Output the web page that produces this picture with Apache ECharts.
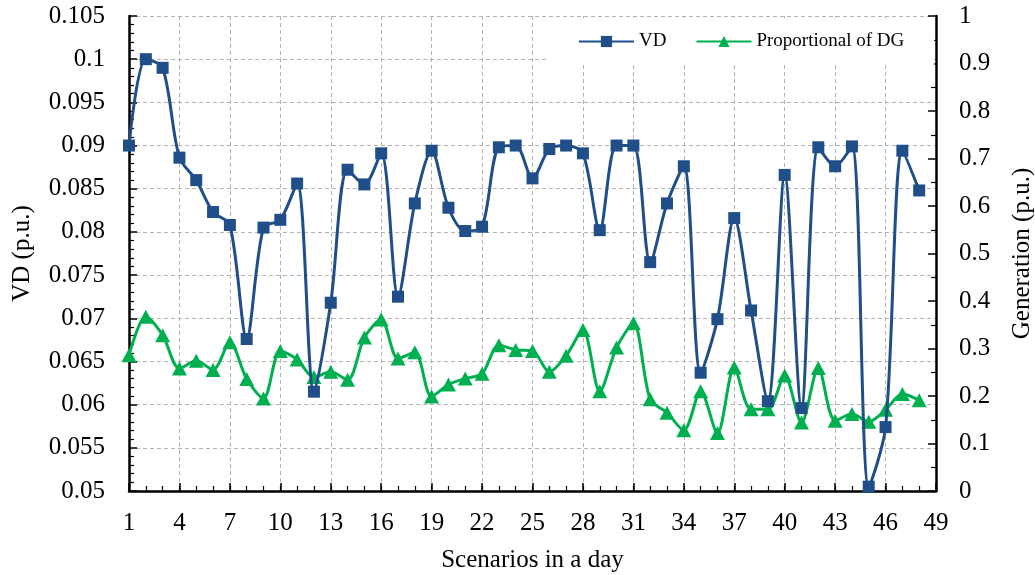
<!DOCTYPE html>
<html>
<head>
<meta charset="utf-8">
<title>VD and DG proportion by scenario</title>
<script src="https://cdn.jsdelivr.net/npm/echarts@6/dist/echarts.min.js"></script>
<style>
  html, body { margin: 0; padding: 0; background: #fff; }
  #chart { width: 1035px; height: 575px; }
</style>
</head>
<body>
<div id="chart"></div>
<script>
// Scenario labels along the x axis (1..49, 48 scenarios plotted)
const scenarios = Array.from({ length: 49 }, (_, i) => String(i + 1));

// Voltage deviation per scenario (p.u.), left axis
const vd = [
  0.0900, 0.1000, 0.0990, 0.0886, 0.0860, 0.0823, 0.0808, 0.0676,
  0.0805, 0.0814, 0.0856, 0.0615, 0.0718, 0.0872, 0.0855, 0.0891,
  0.0725, 0.0833, 0.0894, 0.0828, 0.0801, 0.0806, 0.0898, 0.0900,
  0.0862, 0.0896, 0.0900, 0.0891, 0.0802, 0.0900, 0.0900, 0.0765,
  0.0833, 0.0876, 0.0637, 0.0699, 0.0816, 0.0709, 0.0604, 0.0866,
  0.0596, 0.0898, 0.0876, 0.0899, 0.0505, 0.0574, 0.0894, 0.0848
];

// Proportion of DG generation per scenario (p.u.), right axis
const dg = [
  0.286, 0.367, 0.328, 0.258, 0.274, 0.255, 0.313, 0.236,
  0.195, 0.295, 0.277, 0.240, 0.251, 0.234, 0.323, 0.361,
  0.279, 0.292, 0.199, 0.224, 0.237, 0.247, 0.307, 0.297,
  0.295, 0.251, 0.285, 0.339, 0.210, 0.302, 0.353, 0.193,
  0.165, 0.128, 0.210, 0.122, 0.260, 0.172, 0.172, 0.243,
  0.144, 0.259, 0.148, 0.162, 0.146, 0.171, 0.204, 0.191
];

const FONT = '"Liberation Serif", "Times New Roman", serif';
const BLUE = '#1F4E89';
const GREEN = '#00B050';
const gridLine = { show: true, lineStyle: { color: '#b3b3b3', type: [4, 3], width: 1 } };

const chart = echarts.init(document.getElementById('chart'), null, { renderer: 'canvas' });

chart.setOption({
  backgroundColor: '#ffffff',
  animation: false,
  grid: { left: 129, right: 99, top: 16, bottom: 84, containLabel: false, outerBoundsMode: 'none' },
  legend: {
    left: 548,
    top: 18,
    padding: [14, 30, 14, 30],
    backgroundColor: '#ffffff',
    itemWidth: 55,
    itemHeight: 14,
    itemGap: 29,
    textStyle: { fontFamily: FONT, fontSize: 19, color: '#000' },
    data: ['VD', 'Proportional of DG']
  },
  xAxis: [
    {
      type: 'category',
      data: scenarios,
      boundaryGap: false,
      name: 'Scenarios in a day',
      nameLocation: 'middle',
      nameGap: 57,
      nameTextStyle: { fontFamily: FONT, fontSize: 25, color: '#000' },
      axisLine: { show: true, lineStyle: { color: '#000', width: 2.5 } },
      axisTick: { show: true, inside: true, interval: 2, length: 8, lineStyle: { color: '#000', width: 1.5 } },
      axisLabel: { interval: 2, margin: 20, fontFamily: FONT, fontSize: 25, color: '#000' },
      splitLine: Object.assign({ interval: 2 }, gridLine)
    },
    {
      // every-scenario minor ticks
      type: 'category',
      data: scenarios,
      boundaryGap: false,
      position: 'bottom',
      axisLine: { show: false },
      axisTick: { show: true, inside: true, interval: 0, length: 5, lineStyle: { color: '#000', width: 1.2 } },
      axisLabel: { show: false },
      splitLine: { show: false }
    }
  ],
  yAxis: [
    {
      type: 'value',
      min: 0.05,
      max: 0.105,
      interval: 0.005,
      name: 'VD (p.u.)',
      nameLocation: 'middle',
      nameRotate: 90,
      nameGap: 94,
      nameTextStyle: { fontFamily: FONT, fontSize: 25, color: '#000' },
      axisLine: { show: true, lineStyle: { color: '#000', width: 2.5 } },
      axisTick: { show: true, inside: true, length: 8, lineStyle: { color: '#000', width: 1.5 } },
      minorTick: { show: true, splitNumber: 5, length: 5, lineStyle: { color: '#000', width: 1.2 } },
      axisLabel: { margin: 24, fontFamily: FONT, fontSize: 25, color: '#000' },
      splitLine: gridLine
    },
    {
      type: 'value',
      min: 0,
      max: 1,
      interval: 0.1,
      name: 'Generation (p.u.)',
      nameLocation: 'middle',
      nameRotate: 90,
      nameGap: 74,
      nameTextStyle: { fontFamily: FONT, fontSize: 25, color: '#000' },
      axisLine: { show: true, lineStyle: { color: '#000', width: 2.5 } },
      axisTick: { show: true, inside: true, length: 8, lineStyle: { color: '#000', width: 1.5 } },
      minorTick: { show: true, splitNumber: 2, length: 5, lineStyle: { color: '#000', width: 1.2 } },
      axisLabel: { margin: 23, fontFamily: FONT, fontSize: 25, color: '#000' },
      splitLine: { show: false }
    }
  ],
  series: [
    {
      name: 'VD',
      type: 'line',
      xAxisIndex: 0,
      yAxisIndex: 0,
      data: vd,
      smooth: 0.3,
      showAllSymbol: true,
      symbol: 'rect',
      symbolSize: 12,
      lineStyle: { color: BLUE, width: 3 },
      itemStyle: { color: BLUE },
      z: 3
    },
    {
      name: 'Proportional of DG',
      type: 'line',
      xAxisIndex: 0,
      yAxisIndex: 1,
      data: dg,
      smooth: 0.3,
      showAllSymbol: true,
      symbol: 'triangle',
      symbolSize: [15, 14],
      lineStyle: { color: GREEN, width: 3 },
      itemStyle: { color: GREEN },
      z: 2
    }
  ]
});
</script>
</body>
</html>
